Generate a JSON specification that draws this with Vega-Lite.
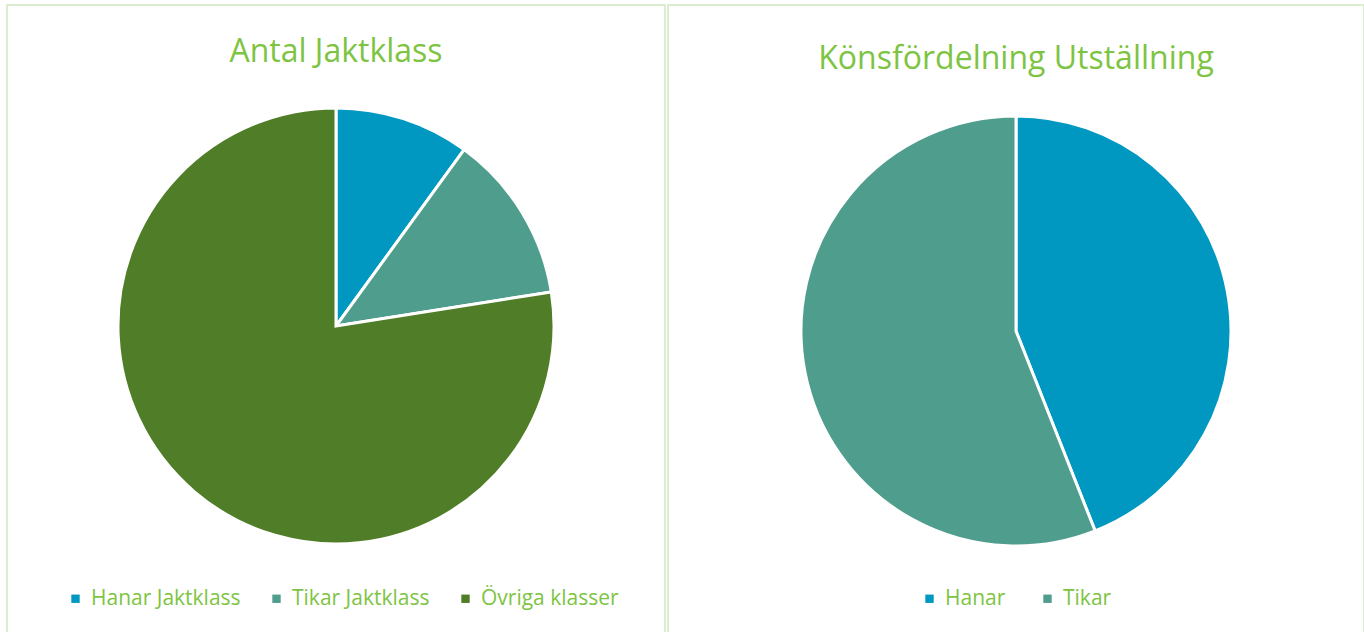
{
  "$schema": "https://vega.github.io/schema/vega-lite/v6.json",
  "padding": {"left": 6, "top": 4, "right": 0, "bottom": 0},
  "background": "white",
  "spacing": 1,
  "config": {
    "view": {"stroke": "#dcedcf", "strokeWidth": 2},
    "title": {"color": "#7dc443", "font": "Open Sans", "fontWeight": "normal", "fontSize": 32, "anchor": "middle"},
    "legend": {"labelColor": "#7dc443", "labelFont": "Open Sans", "labelFontSize": 21, "symbolType": "square", "symbolSize": 70, "symbolStrokeWidth": 0, "title": null, "orient": "none", "direction": "horizontal", "columnPadding": 25, "labelOffset": 5}
  },
  "datasets": {
    "jakt": [
      {"kategori": "Hanar Jaktklass", "antal": 4, "ordning": 1},
      {"kategori": "Tikar Jaktklass", "antal": 5, "ordning": 2},
      {"kategori": "Övriga klasser", "antal": 31, "ordning": 3}
    ],
    "kon": [
      {"kon": "Hanar", "antal": 11, "ordning": 1},
      {"kon": "Tikar", "antal": 14, "ordning": 2}
    ]
  },
  "hconcat": [
    {
      "width": 658,
      "height": 642,
      "view": {"stroke": "#dcedcf", "strokeWidth": 2},
      "title": {"text": "Antal Jaktklass", "offset": -64},
      "data": {"name": "jakt"},
      "mark": {"type": "arc", "outerRadius": 218, "stroke": "white", "strokeWidth": 3},
      "encoding": {
        "theta": {"field": "antal", "type": "quantitative", "stack": true},
        "order": {"field": "ordning", "type": "quantitative"},
        "color": {
          "field": "kategori", "type": "nominal",
          "scale": {"domain": ["Hanar Jaktklass", "Tikar Jaktklass", "Övriga klasser"], "range": ["#0098c1", "#4f9d8d", "#507d27"]},
          "legend": {"legendX": 58, "legendY": 583}
        }
      }
    },
    {
      "width": 696,
      "height": 652,
      "view": {"stroke": "#dcedcf", "strokeWidth": 2},
      "title": {"text": "Könsfördelning Utställning", "offset": -71},
      "data": {"name": "kon"},
      "mark": {"type": "arc", "outerRadius": 215, "stroke": "white", "strokeWidth": 3},
      "encoding": {
        "theta": {"field": "antal", "type": "quantitative", "stack": true},
        "order": {"field": "ordning", "type": "quantitative"},
        "color": {
          "field": "kon", "type": "nominal",
          "scale": {"domain": ["Hanar", "Tikar"], "range": ["#0098c1", "#4f9d8d"]},
          "legend": {"legendX": 251, "legendY": 583, "columnPadding": 31}
        }
      }
    }
  ],
  "resolve": {"scale": {"color": "independent", "theta": "independent"}}
}
